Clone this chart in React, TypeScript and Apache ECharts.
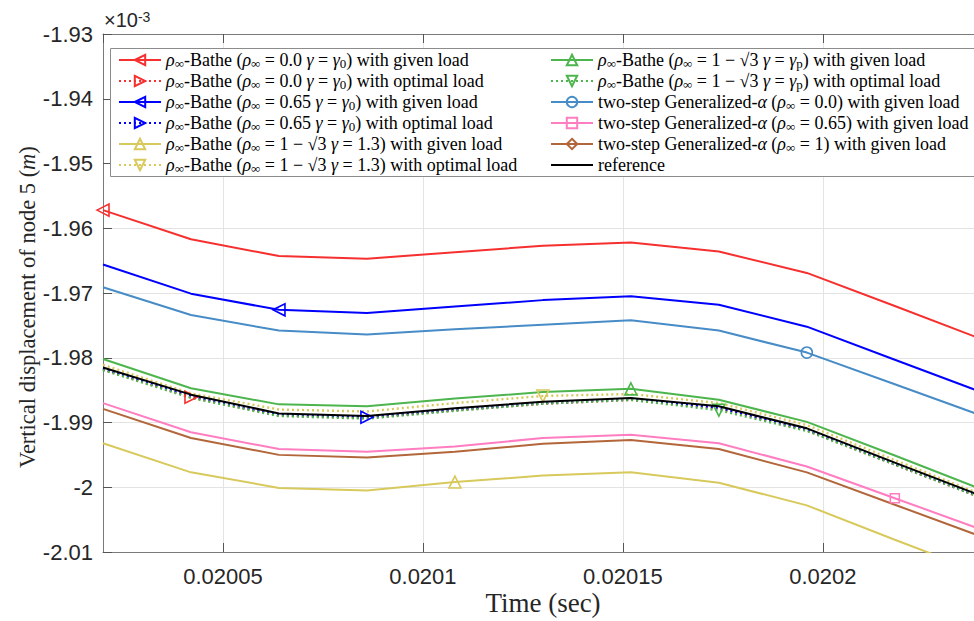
import React, { useEffect, useRef } from "react";
import * as echarts from "echarts";

// Time samples (s)
const times = [0.02002, 0.020042, 0.020064, 0.020086, 0.020108, 0.02013, 0.020152, 0.020174, 0.020196, 0.020218, 0.02024];
// Visible time window (the right edge of the plot is cropped in the figure)
const xMin = 0.02002;
const xMax = 0.0202378;

// Vertical displacement of node 5 (x 1e-3 m)
const redGiven = [-1.9572, -1.9617, -1.9643, -1.9647, -1.9637, -1.9627, -1.9622, -1.9636, -1.9669, -1.972, -1.9772];
const redOptimal = [-1.9818, -1.9861, -1.9889, -1.9893, -1.9881, -1.9871, -1.9865, -1.9878, -1.9912, -1.9965, -2.0017];
const blueGiven = [-1.9656, -1.9701, -1.9726, -1.9731, -1.9721, -1.9711, -1.9705, -1.9718, -1.9752, -1.9803, -1.9854];
const blueOptimal = [-1.9817, -1.9859, -1.9888, -1.9892, -1.988, -1.987, -1.9864, -1.9877, -1.9911, -1.9964, -2.0016];
const yellowGiven = [-1.9932, -1.9977, -2.0001, -2.0005, -1.9992, -1.9982, -1.9977, -1.9993, -2.0028, -2.0081, -2.0133];
const yellowOptimal = [-1.9811, -1.9855, -1.988, -1.9883, -1.987, -1.9859, -1.9856, -1.987, -1.9904, -1.9958, -2.0012];
const greenGiven = [-1.9802, -1.9847, -1.9872, -1.9875, -1.9863, -1.9853, -1.9848, -1.9865, -1.9899, -1.9951, -2.0004];
const greenOptimal = [-1.9819, -1.9862, -1.989, -1.9894, -1.9882, -1.9871, -1.9865, -1.9881, -1.9913, -1.9965, -2.0017];
const gaRho0 = [-1.9691, -1.9734, -1.9758, -1.9764, -1.9756, -1.9749, -1.9742, -1.9758, -1.9792, -1.9841, -1.989];
const gaRho065 = [-1.987, -1.9915, -1.9941, -1.9945, -1.9937, -1.9924, -1.9919, -1.9932, -1.9968, -2.0017, -2.0066];
const gaRho1 = [-1.9879, -1.9924, -1.995, -1.9954, -1.9945, -1.9933, -1.9927, -1.9941, -1.9977, -2.0027, -2.0077];
const reference = [-1.9815, -1.9857, -1.9886, -1.989, -1.9878, -1.9868, -1.9862, -1.9875, -1.9909, -1.9962, -2.0014];

const yTicksMin = -2.01;
const yTicksMax = -1.93;
const yInterval = 0.01;

const legendLabels = [
  "{i|ρ}{s|∞}-Bathe ({i|ρ}{s|∞} = 0.0 {i|γ} = {i|γ}{s|0}) with given load",
  "{i|ρ}{s|∞}-Bathe ({i|ρ}{s|∞} = 0.0 {i|γ} = {i|γ}{s|0}) with optimal load",
  "{i|ρ}{s|∞}-Bathe ({i|ρ}{s|∞} = 0.65 {i|γ} = {i|γ}{s|0}) with given load",
  "{i|ρ}{s|∞}-Bathe ({i|ρ}{s|∞} = 0.65 {i|γ} = {i|γ}{s|0}) with optimal load",
  "{i|ρ}{s|∞}-Bathe ({i|ρ}{s|∞} = 1 − √3 {i|γ} = 1.3) with given load",
  "{i|ρ}{s|∞}-Bathe ({i|ρ}{s|∞} = 1 − √3 {i|γ} = 1.3) with optimal load",
  "{i|ρ}{s|∞}-Bathe ({i|ρ}{s|∞} = 1 − √3 {i|γ} = {i|γ}{s|p}) with given load",
  "{i|ρ}{s|∞}-Bathe ({i|ρ}{s|∞} = 1 − √3 {i|γ} = {i|γ}{s|p}) with optimal load",
  "two-step Generalized-{i|α} ({i|ρ}{s|∞} = 0.0) with given load",
  "two-step Generalized-{i|α} ({i|ρ}{s|∞} = 0.65) with given load",
  "two-step Generalized-{i|α} ({i|ρ}{s|∞} = 1) with given load",
  "reference",
];

const seriesNames = [
  "ρ∞-Bathe (ρ∞ = 0.0 γ = γ0) with given load",
  "ρ∞-Bathe (ρ∞ = 0.0 γ = γ0) with optimal load",
  "ρ∞-Bathe (ρ∞ = 0.65 γ = γ0) with given load",
  "ρ∞-Bathe (ρ∞ = 0.65 γ = γ0) with optimal load",
  "ρ∞-Bathe (ρ∞ = 1 − √3 γ = 1.3) with given load",
  "ρ∞-Bathe (ρ∞ = 1 − √3 γ = 1.3) with optimal load",
  "ρ∞-Bathe (ρ∞ = 1 − √3 γ = γp) with given load",
  "ρ∞-Bathe (ρ∞ = 1 − √3 γ = γp) with optimal load",
  "two-step Generalized-α (ρ∞ = 0.0) with given load",
  "two-step Generalized-α (ρ∞ = 0.65) with given load",
  "two-step Generalized-α (ρ∞ = 1) with given load",
  "reference",
];

const C = {
  red: "#F5302F",
  blue: "#0000FF",
  yellow: "#D8C95C",
  green: "#4DB54D",
  steel: "#478CC6",
  pink: "#FF7DC0",
  brown: "#B2663A",
  black: "#000000",
};

type Spec = {
  values: number[];
  color: string;
  dotted: boolean;
  symbol: string;
  rotate: number;
  mark: number;
  size: number;
};

const specs: Spec[] = [
  { values: redGiven, color: C.red, dotted: false, symbol: "triangle", rotate: 90, mark: 0, size: 12 },
  { values: redOptimal, color: C.red, dotted: true, symbol: "triangle", rotate: -90, mark: 1, size: 12 },
  { values: blueGiven, color: C.blue, dotted: false, symbol: "triangle", rotate: 90, mark: 2, size: 12 },
  { values: blueOptimal, color: C.blue, dotted: true, symbol: "triangle", rotate: -90, mark: 3, size: 12 },
  { values: yellowGiven, color: C.yellow, dotted: false, symbol: "triangle", rotate: 0, mark: 4, size: 12 },
  { values: yellowOptimal, color: C.yellow, dotted: true, symbol: "triangle", rotate: 180, mark: 5, size: 12 },
  { values: greenGiven, color: C.green, dotted: false, symbol: "triangle", rotate: 0, mark: 6, size: 12 },
  { values: greenOptimal, color: C.green, dotted: true, symbol: "triangle", rotate: 180, mark: 7, size: 12 },
  { values: gaRho0, color: C.steel, dotted: false, symbol: "circle", rotate: 0, mark: 8, size: 11 },
  { values: gaRho065, color: C.pink, dotted: false, symbol: "rect", rotate: 0, mark: 9, size: 9 },
  { values: gaRho1, color: C.brown, dotted: false, symbol: "diamond", rotate: 0, mark: 10, size: 12 },
  { values: reference, color: C.black, dotted: false, symbol: "none", rotate: 0, mark: -1, size: 0 },
];

const serif = "'Liberation Serif', 'Times New Roman', serif";
const sans = "'Liberation Sans', Arial, sans-serif";

const legendText = {
  fontFamily: serif,
  fontSize: 18,
  color: "#000",
  lineHeight: 20,
  rich: {
    i: { fontFamily: serif, fontSize: 18, fontStyle: "italic", lineHeight: 20, color: "#000" },
    s: { fontFamily: serif, fontSize: 13, lineHeight: 12, verticalAlign: "bottom", color: "#000" },
  },
};

export default function App() {
  const ref = useRef<HTMLDivElement>(null);
  useEffect(() => {
    document.body.style.margin = "0";
    if (!ref.current) return;
    const chart = echarts.init(ref.current, undefined, { renderer: "svg" });

    const series = specs.map((s, si) => {
      const isRef = s.symbol === "none";
      return {
        type: "line",
        name: seriesNames[si],
        xAxisIndex: 0,
        yAxisIndex: 0,
        symbol: s.symbol,
        symbolSize: s.size,
        symbolRotate: s.rotate,
        showSymbol: true,
        showAllSymbol: true,
        color: s.color,
        clip: true,
        itemStyle: isRef
          ? { color: s.color }
          : { color: "rgba(255,255,255,0)", borderColor: s.color, borderWidth: 1.6 },
        lineStyle: { color: s.color, width: s.dotted ? 2.4 : 2, type: s.dotted ? [2, 3] : "solid" },
        emphasis: { disabled: true },
        z: isRef ? 3 : 2,
        data: times.map((t, i) =>
          i === s.mark ? { value: [t, s.values[i]] } : { value: [t, s.values[i]], symbol: "none" }
        ),
      };
    });

    const fmt = (name: string) => legendLabels[seriesNames.indexOf(name)];
    const legendCommon = {
      orient: "vertical",
      itemWidth: 42,
      itemHeight: 13,
      itemGap: 1,
      padding: 0,
      selectedMode: false,
      textStyle: legendText,
      formatter: fmt,
      z: 5,
    };
    const legendData = seriesNames.map((n) =>
      n === "reference" ? { name: n, icon: "path://M0 0H42V2.2H0Z" } : { name: n }
    );

    chart.setOption({
      animation: false,
      grid: { left: 103, top: 34, right: 0, bottom: 69, containLabel: false },
      xAxis: [
        {
          type: "value",
          position: "bottom",
          min: xMin,
          max: xMax,
          axisLine: { show: true, onZero: false, lineStyle: { color: "#7a7a7a", width: 1 } },
          axisTick: { show: true, inside: true, length: 9, lineStyle: { color: "#555" } },
          axisLabel: { showMinLabel: false, showMaxLabel: false, fontFamily: sans, fontSize: 22, color: "#262626", margin: 13 },
          splitLine: { show: true, lineStyle: { color: "#e3e3e3", width: 1 } },
        },
        {
          type: "value",
          position: "top",
          min: xMin,
          max: xMax,
          axisLine: { show: true, onZero: false, lineStyle: { color: "#7a7a7a", width: 1 } },
          axisTick: { show: true, inside: true, length: 9, lineStyle: { color: "#555" } },
          axisLabel: { show: false },
          splitLine: { show: false },
        },
      ],
      yAxis: [
        {
          type: "value",
          min: yTicksMin,
          max: yTicksMax,
          interval: yInterval,
          axisLine: { show: true, onZero: false, lineStyle: { color: "#7a7a7a", width: 1 } },
          axisTick: { show: true, inside: true, length: 9, lineStyle: { color: "#555" } },
          axisLabel: { fontFamily: sans, fontSize: 22, color: "#262626", margin: 10 },
          splitLine: { show: true, lineStyle: { color: "#e3e3e3", width: 1 } },
        },
      ],
      legend: [
        { ...legendCommon, left: 118, top: 50, data: legendData.slice(0, 6) },
        { ...legendCommon, left: 550, top: 50, data: legendData.slice(6) },
      ],
      graphic: {
        elements: [
          {
            type: "rect",
            z: 4,
            shape: { x: 110.5, y: 48.5, width: 900, height: 128 },
            style: { fill: "#fff", stroke: "#8c8c8c", lineWidth: 1 },
          },
          {
            type: "text",
            x: 104,
            y: 20,
            z: 6,
            style: {
              text: "×10{sup|-3}",
              fontFamily: sans,
              fontSize: 20,
              fill: "#262626",
              verticalAlign: "middle",
              rich: { sup: { fontFamily: sans, fontSize: 14, verticalAlign: "top", lineHeight: 13, fill: "#262626" } },
            },
          },
          {
            type: "text",
            x: 543,
            y: 603,
            style: {
              text: "Time (sec)",
              fontFamily: serif,
              fontSize: 27,
              fill: "#262626",
              align: "center",
              verticalAlign: "middle",
            },
          },
          {
            type: "text",
            x: 27,
            y: 307,
            rotation: Math.PI / 2,
            style: {
              text: "Vertical displacement of node 5 ({i|m})",
              fontFamily: serif,
              fontSize: 22.5,
              fill: "#262626",
              align: "center",
              verticalAlign: "middle",
              rich: { i: { fontFamily: serif, fontSize: 22.5, fontStyle: "italic", fill: "#262626" } },
            },
          },
        ],
      },
      series,
    });

    return () => chart.dispose();
  }, []);

  return <div ref={ref} style={{ width: 974, height: 621 }} />;
}
